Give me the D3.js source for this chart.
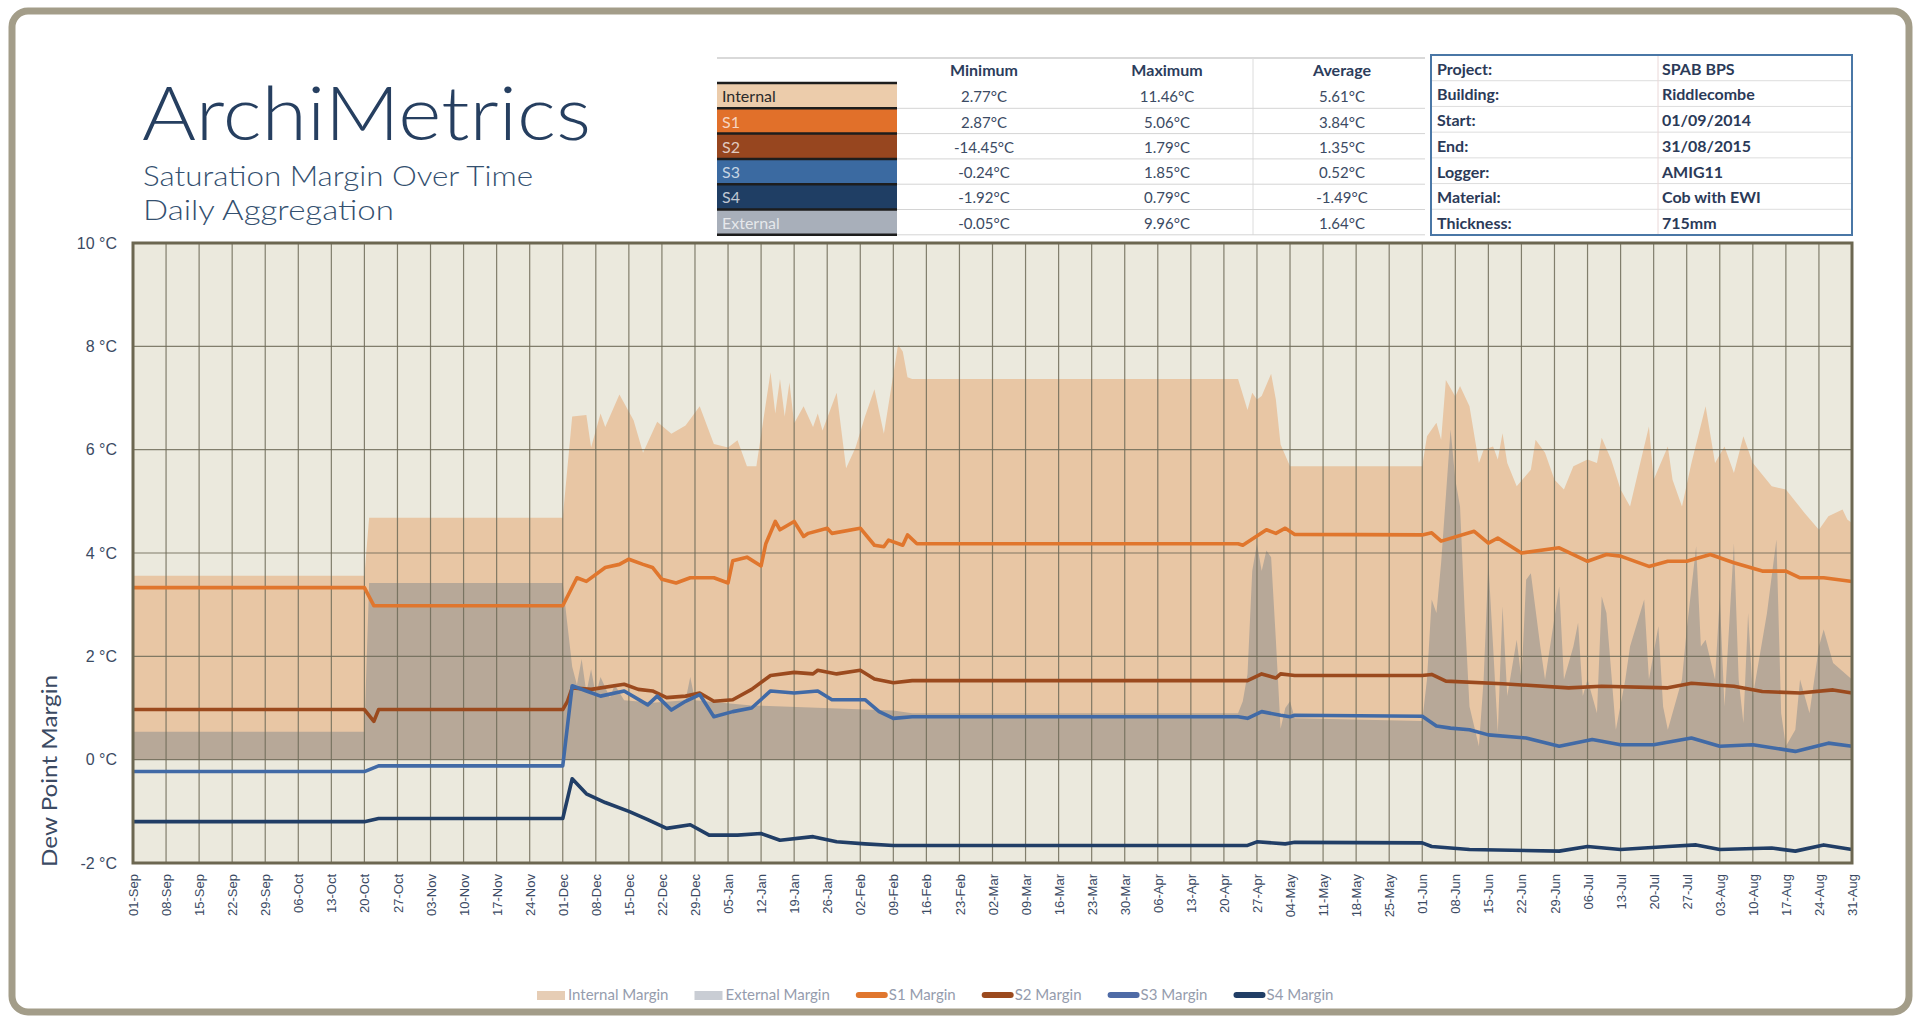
<!DOCTYPE html>
<meta charset="utf-8">
<style>
    body { margin: 0; background: #fff; }
    svg { display: block; font-family: Lato, "Open Sans", sans-serif; }
    .axis path, .axis line { display: none; }
    .axis text { fill: #3b4a63; }
</style>
<body>
<script src="https://d3js.org/d3.v7.min.js"></script>
<script>

    // ---- data (daily aggregation, °C) ----
    var internalMargin = [
        ["2014-09-01",3.56],["2014-10-20",3.56],["2014-10-21",4.68],["2014-12-01",4.68],
        ["2014-12-03",6.64],["2014-12-06",6.67],["2014-12-07",6.04],["2014-12-09",6.70],["2014-12-10",6.44],["2014-12-13",7.07],
        ["2014-12-16",6.57],["2014-12-18",5.94],["2014-12-21",6.54],["2014-12-24",6.31],["2014-12-27",6.47],["2014-12-30",6.84],
        ["2015-01-02",6.11],["2015-01-05",6.04],["2015-01-07",6.18],["2015-01-09",5.68],["2015-01-11",5.68],["2015-01-14",7.50],
        ["2015-01-15",6.70],["2015-01-16",7.37],["2015-01-17",6.64],["2015-01-18",7.30],["2015-01-19",6.51],["2015-01-21",6.84],
        ["2015-01-23",6.44],["2015-01-24",6.70],["2015-01-25",6.37],["2015-01-28",7.10],["2015-01-30",5.64],
        ["2015-02-01",6.04],["2015-02-03",6.64],["2015-02-05",7.17],["2015-02-07",6.31],["2015-02-10",8.03],["2015-02-11",7.90],
        ["2015-02-12",7.40],["2015-02-13",7.37],["2015-04-23",7.37],["2015-04-25",6.77],["2015-04-26",7.10],["2015-04-27",6.97],
        ["2015-04-28",7.04],["2015-04-30",7.47],["2015-05-01",6.97],["2015-05-02",6.10],["2015-05-04",5.68],["2015-06-01",5.68],
        ["2015-06-02",6.26],["2015-06-04",6.52],["2015-06-05",6.19],["2015-06-06",7.35],["2015-06-08",7.03],["2015-06-09",7.23],
        ["2015-06-11",6.84],["2015-06-13",5.74],["2015-06-14",6.00],["2015-06-16",6.06],["2015-06-17",5.81],["2015-06-18",6.32],
        ["2015-06-19",5.74],["2015-06-21",5.29],["2015-06-24",5.61],["2015-06-25",6.19],["2015-06-27",5.94],["2015-06-29",5.42],
        ["2015-07-01",5.23],["2015-07-03",5.68],["2015-07-06",5.81],["2015-07-08",5.74],["2015-07-09",6.23],["2015-07-11",5.81],
        ["2015-07-13",5.23],["2015-07-15",4.90],["2015-07-17",5.68],["2015-07-19",6.45],["2015-07-20",5.42],["2015-07-23",6.06],
        ["2015-07-24",5.42],["2015-07-26",4.90],["2015-07-28",5.74],["2015-07-31",6.84],["2015-08-02",5.74],["2015-08-04",6.06],
        ["2015-08-06",5.55],["2015-08-08",6.26],["2015-08-10",5.74],["2015-08-14",5.29],["2015-08-17",5.23],["2015-08-21",4.77],
        ["2015-08-24",4.45],["2015-08-26",4.71],["2015-08-29",4.84],["2015-08-30",4.65],["2015-08-31",4.58]
    ];

    var externalMargin = [
        ["2014-09-01",0.54],["2014-10-20",0.54],["2014-10-21",3.42],["2014-12-01",3.42],["2014-12-02",2.60],["2014-12-03",1.80],
        ["2014-12-04",1.45],["2014-12-05",1.95],["2014-12-06",1.30],["2014-12-07",1.75],["2014-12-08",1.25],["2014-12-09",1.60],
        ["2014-12-11",1.20],["2014-12-12",1.45],["2014-12-14",1.15],["2014-12-20",1.10],["2014-12-27",1.15],["2014-12-28",1.60],
        ["2014-12-29",1.15],["2015-01-10",1.05],["2015-02-09",0.95],["2015-02-13",0.90],["2015-04-23",0.90],["2015-04-24",1.13],
        ["2015-04-25",1.66],["2015-04-26",3.65],["2015-04-27",4.18],["2015-04-28",3.65],["2015-04-29",4.05],["2015-04-30",3.92],
        ["2015-05-01",2.32],["2015-05-02",0.60],["2015-05-03",1.00],["2015-05-04",1.13],["2015-05-05",0.80],["2015-06-01",0.75],
        ["2015-06-02",1.55],["2015-06-03",3.10],["2015-06-04",2.84],["2015-06-05",3.81],["2015-06-07",6.39],["2015-06-08",5.42],
        ["2015-06-09",4.90],["2015-06-10",2.84],["2015-06-11",1.03],["2015-06-13",0.26],["2015-06-14",1.55],["2015-06-15",3.81],
        ["2015-06-16",2.19],["2015-06-17",0.52],["2015-06-18",2.97],["2015-06-19",1.23],["2015-06-21",2.32],["2015-06-22",1.55],
        ["2015-06-23",3.48],["2015-06-24",3.61],["2015-06-26",2.19],["2015-06-27",1.55],["2015-06-30",3.35],["2015-07-01",1.55],
        ["2015-07-03",2.19],["2015-07-04",2.65],["2015-07-05",1.23],["2015-07-06",1.55],["2015-07-08",0.90],["2015-07-09",3.16],
        ["2015-07-10",2.84],["2015-07-12",0.58],["2015-07-14",1.55],["2015-07-15",2.19],["2015-07-18",3.10],["2015-07-19",1.55],
        ["2015-07-21",2.58],["2015-07-22",1.03],["2015-07-23",0.58],["2015-07-26",1.55],["2015-07-27",2.52],["2015-07-29",4.13],
        ["2015-07-30",2.19],["2015-07-31",2.32],["2015-08-02",1.55],["2015-08-03",3.16],["2015-08-04",1.03],["2015-08-06",4.19],
        ["2015-08-07",1.55],["2015-08-08",0.71],["2015-08-09",2.84],["2015-08-10",1.23],["2015-08-13",2.84],["2015-08-15",4.26],
        ["2015-08-16",0.90],["2015-08-17",0.26],["2015-08-19",0.58],["2015-08-20",1.55],["2015-08-22",0.90],["2015-08-24",2.19],
        ["2015-08-25",2.52],["2015-08-27",1.87],["2015-08-31",1.55]
    ];

    var s1Margin = [
        ["2014-09-01",3.33],["2014-10-20",3.33],["2014-10-22",2.98],["2014-12-01",2.98],["2014-12-04",3.52],["2014-12-06",3.45],
        ["2014-12-10",3.72],["2014-12-13",3.78],["2014-12-15",3.88],["2014-12-18",3.78],["2014-12-20",3.72],["2014-12-22",3.49],
        ["2014-12-25",3.42],["2014-12-28",3.52],["2015-01-02",3.52],["2015-01-05",3.42],["2015-01-06",3.85],["2015-01-09",3.92],
        ["2015-01-12",3.75],["2015-01-13",4.18],["2015-01-15",4.61],["2015-01-16",4.45],["2015-01-19",4.61],["2015-01-21",4.32],
        ["2015-01-22",4.38],["2015-01-26",4.48],["2015-01-27",4.38],["2015-02-02",4.48],["2015-02-05",4.15],["2015-02-07",4.12],
        ["2015-02-08",4.25],["2015-02-11",4.15],["2015-02-12",4.35],["2015-02-14",4.18],["2015-04-23",4.18],["2015-04-24",4.15],
        ["2015-04-29",4.45],["2015-05-01",4.38],["2015-05-03",4.48],["2015-05-05",4.36],["2015-06-01",4.35],["2015-06-03",4.39],
        ["2015-06-05",4.23],["2015-06-12",4.42],["2015-06-15",4.19],["2015-06-17",4.29],["2015-06-22",4.00],["2015-06-30",4.10],
        ["2015-07-06",3.84],["2015-07-10",3.97],["2015-07-13",3.94],["2015-07-19",3.74],["2015-07-23",3.84],["2015-07-27",3.84],
        ["2015-08-01",3.97],["2015-08-06",3.81],["2015-08-12",3.65],["2015-08-17",3.65],["2015-08-20",3.52],["2015-08-25",3.52],
        ["2015-08-31",3.45]
    ];

    var s2Margin = [
        ["2014-09-01",0.97],["2014-10-20",0.97],["2014-10-22",0.74],["2014-10-23",0.97],["2014-12-01",0.97],["2014-12-02",1.13],
        ["2014-12-03",1.39],["2014-12-07",1.36],["2014-12-14",1.46],["2014-12-17",1.36],["2014-12-20",1.33],["2014-12-23",1.20],
        ["2014-12-27",1.23],["2014-12-30",1.29],["2015-01-02",1.13],["2015-01-06",1.16],["2015-01-10",1.36],["2015-01-14",1.63],
        ["2015-01-19",1.69],["2015-01-23",1.66],["2015-01-24",1.73],["2015-01-28",1.66],["2015-02-02",1.73],["2015-02-05",1.56],
        ["2015-02-09",1.49],["2015-02-13",1.53],["2015-04-25",1.53],["2015-04-28",1.66],["2015-05-01",1.58],["2015-05-02",1.66],
        ["2015-05-05",1.63],["2015-06-01",1.63],["2015-06-03",1.65],["2015-06-06",1.52],["2015-06-18",1.47],["2015-07-02",1.39],
        ["2015-07-09",1.42],["2015-07-23",1.39],["2015-07-28",1.48],["2015-08-06",1.42],["2015-08-12",1.32],["2015-08-20",1.29],
        ["2015-08-27",1.35],["2015-08-31",1.29]
    ];

    var s3Margin = [
        ["2014-09-01",-0.23],["2014-10-20",-0.23],["2014-10-23",-0.12],["2014-12-01",-0.12],["2014-12-03",1.43],["2014-12-06",1.33],
        ["2014-12-09",1.23],["2014-12-14",1.33],["2014-12-19",1.06],["2014-12-21",1.23],["2014-12-24",0.96],["2014-12-27",1.13],
        ["2014-12-30",1.26],["2015-01-02",0.83],["2015-01-06",0.93],["2015-01-10",1.00],["2015-01-14",1.33],["2015-01-19",1.29],
        ["2015-01-24",1.33],["2015-01-27",1.16],["2015-02-03",1.16],["2015-02-06",0.93],["2015-02-09",0.80],["2015-02-13",0.83],
        ["2015-04-23",0.83],["2015-04-25",0.80],["2015-04-28",0.93],["2015-05-02",0.86],["2015-05-04",0.83],["2015-05-05",0.86],
        ["2015-06-01",0.84],["2015-06-04",0.65],["2015-06-07",0.61],["2015-06-11",0.58],["2015-06-15",0.48],["2015-06-23",0.42],
        ["2015-06-30",0.26],["2015-07-07",0.39],["2015-07-13",0.29],["2015-07-20",0.29],["2015-07-28",0.42],["2015-08-03",0.26],
        ["2015-08-10",0.29],["2015-08-19",0.16],["2015-08-26",0.32],["2015-08-31",0.26]
    ];

    var s4Margin = [
        ["2014-09-01",-1.20],["2014-10-20",-1.20],["2014-10-23",-1.14],["2014-12-01",-1.14],["2014-12-03",-0.37],["2014-12-06",-0.66],
        ["2014-12-10",-0.83],["2014-12-15",-1.00],["2014-12-19",-1.16],["2014-12-23",-1.33],["2014-12-28",-1.26],["2015-01-01",-1.46],
        ["2015-01-07",-1.46],["2015-01-12",-1.43],["2015-01-16",-1.56],["2015-01-23",-1.49],["2015-01-28",-1.59],["2015-02-03",-1.63],
        ["2015-02-09",-1.66],["2015-04-25",-1.66],["2015-04-27",-1.59],["2015-05-03",-1.63],["2015-05-05",-1.60],["2015-06-01",-1.61],
        ["2015-06-03",-1.68],["2015-06-11",-1.74],["2015-06-30",-1.77],["2015-07-06",-1.68],["2015-07-13",-1.74],["2015-07-23",-1.68],
        ["2015-07-29",-1.65],["2015-08-03",-1.74],["2015-08-14",-1.71],["2015-08-19",-1.77],["2015-08-25",-1.65],["2015-08-31",-1.74]
    ];

    var yTicks = [-2, 0, 2, 4, 6, 8, 10];
    var dateRange = ["2014-09-01", "2015-08-31"];

    var statNames = ["Internal", "S1", "S2", "S3", "S4", "External"];
    var statHeads = ["Minimum", "Maximum", "Average"];
    var statMin = ["2.77°C", "2.87°C", "-14.45°C", "-0.24°C", "-1.92°C", "-0.05°C"];
    var statMax = ["11.46°C", "5.06°C", "1.79°C", "1.85°C", "0.79°C", "9.96°C"];
    var statAvg = ["5.61°C", "3.84°C", "1.35°C", "0.52°C", "-1.49°C", "1.64°C"];

    var infoLabels = ["Project:", "Building:", "Start:", "End:", "Logger:", "Material:", "Thickness:"];
    var infoValues = ["SPAB BPS", "Riddlecombe", "01/09/2014", "31/08/2015", "AMIG11", "Cob with EWI", "715mm"];

    var legendNames = ["Internal Margin", "External Margin", "S1 Margin", "S2 Margin", "S3 Margin", "S4 Margin"];

    // ---- layout ----
    var W = 1926, H = 1017;
    var margin = {top: 243, right: 74, bottom: 154, left: 133};
    var width = W - margin.left - margin.right,
        height = H - margin.top - margin.bottom;

    var colors = {
        internal: "#e8c6a4", external: "#b7a898",
        s1: "#e0762d", s2: "#9b4a1e", s3: "#416aa6", s4: "#213e66",
        cellInternal: "#ecccab", cellS1: "#e1702a", cellS2: "#97461f", cellS3: "#3b6aa1", cellS4: "#1f3e64", cellExternal: "#a8afba"
    };

    var parseDate = d3.timeParse("%Y-%m-%d");
    function rows(arr) { return arr.map(function(d) { return {date: parseDate(d[0]), value: d[1]}; }); }

    var x = d3.scaleTime()
            .domain(dateRange.map(parseDate))
            .range([0, width]);
    var y = d3.scaleLinear()
            .domain([-2, 10])
            .range([height, 0]);

    var svg = d3.select("body").append("svg")
            .attr("width", W)
            .attr("height", H);

    // outer frame
    svg.append("rect")
            .attr("x", 12).attr("y", 11)
            .attr("width", 1897).attr("height", 1001)
            .attr("rx", 16)
            .attr("fill", "#fff")
            .attr("stroke", "#a39d89")
            .attr("stroke-width", 7);

    // title block
    var titleColor = "#263f60";
    svg.append("text")
            .attr("x", 142).attr("y", 140)
            .attr("textLength", 449).attr("lengthAdjust", "spacingAndGlyphs")
            .style("font-size", "74px").style("font-weight", 300)
            .attr("fill", titleColor)
            .text("ArchiMetrics");
    svg.append("text")
            .attr("x", 143).attr("y", 186)
            .attr("textLength", 390).attr("lengthAdjust", "spacingAndGlyphs")
            .style("font-size", "27px").style("font-weight", 300)
            .attr("fill", "#34506f")
            .text("Saturation Margin Over Time");
    svg.append("text")
            .attr("x", 143).attr("y", 220)
            .attr("textLength", 251).attr("lengthAdjust", "spacingAndGlyphs")
            .style("font-size", "27px").style("font-weight", 300)
            .attr("fill", "#34506f")
            .text("Daily Aggregation");

    // stats table
    var stat = svg.append("g").attr("class", "stats");
    var tLeft = 717, tCell = 897, tRight = 1425, tTop = 83, rowH = 25.3;
    var colX = [984, 1167, 1342];
    var cellColors = [colors.cellInternal, colors.cellS1, colors.cellS2, colors.cellS3, colors.cellS4, colors.cellExternal];

    stat.append("line").attr("x1", tLeft).attr("x2", tRight).attr("y1", 58).attr("y2", 58)
            .attr("stroke", "#d9d9d9").attr("stroke-width", 2);
    stat.append("line").attr("x1", 1253).attr("x2", 1253).attr("y1", 58).attr("y2", tTop + rowH * 6)
            .attr("stroke", "#dcdcdc");
    stat.selectAll("text.head").data(statHeads).enter().append("text")
            .attr("class", "head")
            .attr("x", function(d, i) { return colX[i]; })
            .attr("y", 76)
            .attr("text-anchor", "middle")
            .style("font-size", "16px").style("font-weight", 700)
            .attr("fill", "#2c3d5c")
            .text(function(d) { return d; });

    var statRow = stat.selectAll("g.row").data(statNames).enter().append("g")
            .attr("class", "row")
            .attr("transform", function(d, i) { return "translate(0," + (tTop + i * rowH) + ")"; });
    statRow.append("rect")
            .attr("x", tLeft).attr("width", tCell - tLeft)
            .attr("height", rowH)
            .attr("fill", function(d, i) { return cellColors[i]; });
    statRow.append("line")
            .attr("x1", tCell).attr("x2", tRight).attr("y1", rowH).attr("y2", rowH)
            .attr("stroke", "#d4d4d4");
    statRow.append("line")
            .attr("x1", tLeft).attr("x2", tCell).attr("y1", 0).attr("y2", 0)
            .attr("stroke", "#1d1d1d").attr("stroke-width", 2.5);
    statRow.append("text")
            .attr("x", tLeft + 5).attr("y", rowH - 6)
            .style("font-size", "16px")
            .attr("fill", function(d, i) { return i === 0 ? "#2a2a2a" : "rgba(255,255,255,0.72)"; })
            .text(function(d) { return d; });
    [statMin, statMax, statAvg].forEach(function(col, c) {
        statRow.append("text")
                .attr("x", colX[c]).attr("y", rowH - 6)
                .attr("text-anchor", "middle")
                .style("font-size", "15px")
                .attr("fill", "#3b4a63")
                .text(function(d, i) { return col[i]; });
    });
    stat.append("line").attr("x1", tLeft).attr("x2", tCell).attr("y1", tTop + rowH * 6).attr("y2", tTop + rowH * 6)
            .attr("stroke", "#1d1d1d").attr("stroke-width", 2.5);

    // info table
    var info = svg.append("g").attr("class", "info");
    var iLeft = 1431, iTop = 55, iW = 421, iRowH = 180 / infoLabels.length;
    info.selectAll("line.sep").data(infoLabels.slice(1)).enter().append("line")
            .attr("x1", iLeft).attr("x2", iLeft + iW)
            .attr("y1", function(d, i) { return iTop + (i + 1) * iRowH; })
            .attr("y2", function(d, i) { return iTop + (i + 1) * iRowH; })
            .attr("stroke", "#dddddd");
    info.append("line").attr("x1", 1658).attr("x2", 1658).attr("y1", iTop).attr("y2", iTop + 180)
            .attr("stroke", "#ead8d8");
    info.append("rect")
            .attr("x", iLeft).attr("y", iTop).attr("width", iW).attr("height", 180)
            .attr("fill", "none").attr("stroke", "#4a77a6").attr("stroke-width", 2);
    info.selectAll("text.lab").data(infoLabels).enter().append("text")
            .attr("x", iLeft + 6)
            .attr("y", function(d, i) { return iTop + (i + 1) * iRowH - 6; })
            .style("font-size", "16px").style("font-weight", 700)
            .attr("fill", "#2b3a58")
            .text(function(d) { return d; });
    info.selectAll("text.val").data(infoValues).enter().append("text")
            .attr("x", 1662)
            .attr("y", function(d, i) { return iTop + (i + 1) * iRowH - 6; })
            .style("font-size", "16px").style("font-weight", 700)
            .attr("fill", "#2b3a58")
            .text(function(d) { return d; });

    // ---- plot ----
    var plot = svg.append("g")
            .attr("transform", "translate(" + margin.left + "," + margin.top + ")");

    plot.append("rect")
            .attr("width", width).attr("height", height)
            .attr("fill", "#ebe9dd");

    var area = d3.area()
            .x(function(d) { return x(d.date); })
            .y0(y(0))
            .y1(function(d) { return y(d.value); });

    plot.append("path").datum(rows(internalMargin))
            .attr("fill", colors.internal).attr("d", area);
    plot.append("path").datum(rows(externalMargin))
            .attr("fill", colors.external).attr("d", area);

    // grid
    var weeks = d3.timeMonday.range(x.domain()[0], d3.timeDay.offset(x.domain()[1], 1));
    plot.append("g").selectAll("line").data(weeks).enter().append("line")
            .attr("x1", function(d) { return x(d); }).attr("x2", function(d) { return x(d); })
            .attr("y1", 0).attr("y2", height)
            .attr("stroke", "#6f6b58").attr("stroke-opacity", 0.85).attr("stroke-width", 1.2);
    plot.append("g").selectAll("line").data(yTicks).enter().append("line")
            .attr("x1", 0).attr("x2", width)
            .attr("y1", function(d) { return y(d); }).attr("y2", function(d) { return y(d); })
            .attr("stroke", "#6f6b58").attr("stroke-opacity", 0.85).attr("stroke-width", 1.2);

    var line = d3.line()
            .x(function(d) { return x(d.date); })
            .y(function(d) { return y(d.value); });

    [[s1Margin, colors.s1], [s2Margin, colors.s2], [s3Margin, colors.s3], [s4Margin, colors.s4]].forEach(function(s) {
        plot.append("path").datum(rows(s[0]))
                .attr("fill", "none")
                .attr("stroke", s[1])
                .attr("stroke-width", 3.6)
                .attr("stroke-linejoin", "round")
                .attr("d", line);
    });

    plot.append("rect")
            .attr("width", width).attr("height", height)
            .attr("fill", "none")
            .attr("stroke", "#6c6751").attr("stroke-width", 3);

    // axes
    var xAxis = d3.axisBottom(x)
            .ticks(d3.timeMonday.every(1))
            .tickFormat(d3.timeFormat("%d-%b"))
            .tickSize(0);
    plot.append("g")
            .attr("class", "x axis")
            .attr("transform", "translate(0," + height + ")")
            .call(xAxis)
        .selectAll("text")
            .style("font-size", "13px")
            .attr("transform", "rotate(-90)")
            .attr("text-anchor", "end")
            .attr("x", -11).attr("y", 0)
            .attr("dy", "0.35em");

    var yAxis = d3.axisLeft(y)
            .tickValues(yTicks)
            .tickFormat(function(d) { return d + " °C"; })
            .tickSize(0)
            .tickPadding(16);
    plot.append("g")
            .attr("class", "y axis")
            .call(yAxis)
        .selectAll("text")
            .style("font-size", "16px");

    svg.append("text")
            .attr("transform", "translate(57,867) rotate(-90)")
            .attr("textLength", 192).attr("lengthAdjust", "spacingAndGlyphs")
            .style("font-size", "21px")
            .attr("fill", "#3b4a63")
            .text("Dew Point Margin");

    // legend
    var legendColors = ["#e6cdb5", "#c9cdd4", colors.s1, colors.s2, "#4e6ba6", colors.s4];
    var legend = svg.append("g").attr("class", "legend");
    var lx = 537;
    legendNames.forEach(function(name, i) {
        var g = legend.append("g").attr("transform", "translate(" + lx + ",995)");
        var isArea = i < 2;
        g.append("rect")
                .attr("x", 0).attr("y", isArea ? -4 : -3)
                .attr("width", isArea ? 28 : 32).attr("height", isArea ? 9 : 6)
                .attr("rx", isArea ? 0 : 3)
                .attr("fill", legendColors[i]);
        var t = g.append("text")
                .attr("x", isArea ? 31 : 33).attr("y", 5)
                .style("font-size", "15px")
                .attr("fill", "#959cad")
                .text(name);
        lx += (isArea ? 31 : 33) + t.node().getComputedTextLength() + 26;
    });

</script>
</body>
